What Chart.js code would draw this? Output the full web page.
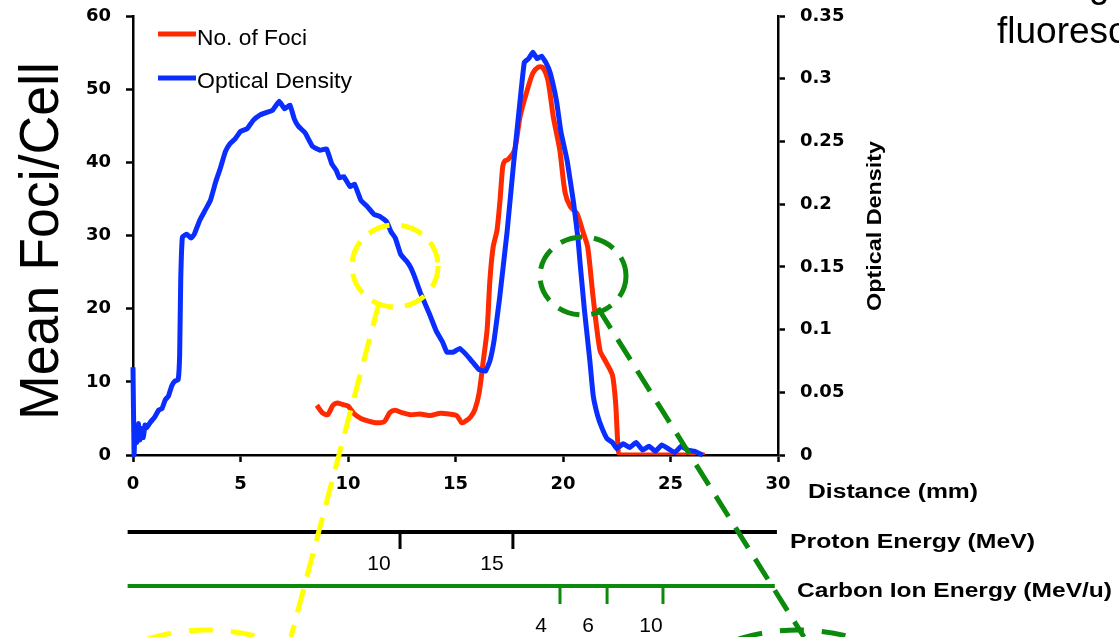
<!DOCTYPE html>
<html lang="en">
<head>
<meta charset="UTF-8">
<title>Foci and Optical Density vs Distance</title>
<script src="https://cdn.jsdelivr.net/npm/chart.js@4.4.0/dist/chart.umd.min.js"></script>
<style>
  html, body { margin: 0; padding: 0; background: #fff; }
  #wrap { width: 1119px; height: 637px; }
</style>
</head>
<body>
<div id="wrap"><canvas id="chart" width="1119" height="637"></canvas></div>
<script>
// red curve: mean foci per cell (left axis)
const fociDist = [8.55, 8.8, 9.05, 9.3, 9.5, 9.75, 10.0, 10.3, 10.6, 11.0, 11.35, 11.7, 11.95, 12.2, 12.5, 12.9, 13.35, 13.8, 14.3, 14.7, 15.05, 15.3, 15.5, 15.7, 15.9, 16.1, 16.28, 16.47, 16.6, 16.75, 16.93, 17.07, 17.2, 17.3, 17.45, 17.75, 18.0, 18.3, 18.6, 18.85, 19.05, 19.3, 19.55, 19.85, 20.1, 20.35, 20.65, 20.95, 21.15, 21.4, 21.72, 22.0, 22.3, 22.45, 22.55, 22.65, 24.0, 25.5, 26.6];
const fociVal  = [6.8, 5.8, 5.5, 6.8, 7.1, 6.9, 6.7, 5.6, 5.0, 4.6, 4.4, 4.6, 5.8, 6.1, 5.8, 5.5, 5.6, 5.4, 5.7, 5.6, 5.4, 4.4, 4.7, 5.2, 6.2, 8.5, 12.6, 17.1, 23.9, 28.4, 30.7, 34.8, 39.5, 40.2, 40.4, 41.7, 46.2, 49.5, 52.2, 53.0, 53.0, 51.2, 46.2, 41.7, 35.8, 33.9, 33.0, 30.3, 28.4, 21.6, 14.3, 12.7, 10.9, 7.0, 1.6, 0, 0, 0, 0];

// blue curve: optical density (right axis)
const odDist = [0, 0.05, 0.1, 0.18, 0.25, 0.32, 0.4, 0.48, 0.56, 0.65, 0.8, 1.0, 1.2, 1.35, 1.5, 1.65, 1.8, 1.95, 2.1, 2.17, 2.22, 2.3, 2.5, 2.7, 2.85, 3.1, 3.35, 3.6, 3.85, 4.05, 4.3, 4.5, 4.75, 5.0, 5.3, 5.6, 5.9, 6.2, 6.5, 6.8, 7.05, 7.3, 7.5, 7.7, 8.0, 8.35, 8.7, 9.0, 9.25, 9.45, 9.6, 9.8, 10.1, 10.3, 10.6, 10.9, 11.2, 11.5, 11.8, 12.0, 12.2, 12.45, 12.7, 12.9, 13.1, 13.35, 13.6, 13.8, 14.1, 14.4, 14.6, 14.9, 15.2, 15.5, 15.8, 16.1, 16.4, 16.6, 16.8, 17.05, 17.4, 17.7, 18.0, 18.2, 18.4, 18.6, 18.8, 19.0, 19.2, 19.4, 19.7, 19.9, 20.2, 20.5, 20.7, 20.8, 21.0, 21.25, 21.4, 21.6, 21.8, 22.05, 22.3, 22.5, 22.8, 23.1, 23.4, 23.7, 24.0, 24.3, 24.6, 24.9, 25.2, 25.5, 25.8, 26.1, 26.5];
const odVal  = [0.070, 0.0, 0.022, 0.010, 0.025, 0.012, 0.021, 0.014, 0.024, 0.022, 0.026, 0.030, 0.036, 0.037, 0.044, 0.047, 0.055, 0.059, 0.060, 0.080, 0.140, 0.174, 0.176, 0.173, 0.176, 0.187, 0.195, 0.203, 0.218, 0.228, 0.242, 0.248, 0.252, 0.258, 0.260, 0.267, 0.271, 0.273, 0.275, 0.282, 0.276, 0.279, 0.268, 0.262, 0.257, 0.246, 0.243, 0.244, 0.232, 0.227, 0.221, 0.222, 0.214, 0.216, 0.203, 0.198, 0.192, 0.190, 0.186, 0.178, 0.173, 0.160, 0.155, 0.150, 0.142, 0.130, 0.120, 0.112, 0.099, 0.090, 0.082, 0.082, 0.085, 0.080, 0.074, 0.068, 0.067, 0.075, 0.092, 0.125, 0.178, 0.232, 0.282, 0.313, 0.316, 0.321, 0.316, 0.318, 0.313, 0.305, 0.282, 0.258, 0.234, 0.200, 0.172, 0.152, 0.115, 0.075, 0.048, 0.032, 0.022, 0.013, 0.010, 0.005, 0.009, 0.006, 0.010, 0.004, 0.007, 0.003, 0.008, 0.005, 0.002, 0.007, 0.004, 0.003, 0.0];

// secondary energy scales under the distance axis (tick positions in mm)
const protonTicks = ['10', '15'];
const protonTickMm = [12.42, 17.67];
const carbonTicks = ['4', '6', '10'];
const carbonTickMm = [19.86, 22.05, 24.65];

const RED = '#ff2a00';
const BLUE = '#0a2eff';
const GREEN = '#0b8a0b';
const YELLOW = '#ffff00';

// draws text scaled horizontally so it covers a given width
function fitText(ctx, txt, x, y, font, width, angle) {
  ctx.save();
  ctx.font = font;
  const w = ctx.measureText(txt).width;
  ctx.translate(x, y);
  if (angle) ctx.rotate(angle);
  ctx.scale(width / w, 1);
  ctx.textAlign = 'left';
  ctx.textBaseline = 'alphabetic';
  ctx.fillStyle = '#000';
  ctx.fillText(txt, 0, 0);
  ctx.restore();
}

function dashedEllipse(ctx, cx, cy, rx, ry, color, dash) {
  ctx.save();
  ctx.strokeStyle = color;
  ctx.lineWidth = 5;
  ctx.setLineDash(dash);
  ctx.beginPath();
  ctx.ellipse(cx, cy, rx, ry, 0, 0, Math.PI * 2);
  ctx.stroke();
  ctx.restore();
}

function dashedLine(ctx, x1, y1, x2, y2, color, dash) {
  ctx.save();
  ctx.strokeStyle = color;
  ctx.lineWidth = 5;
  ctx.setLineDash(dash);
  ctx.beginPath();
  ctx.moveTo(x1, y1);
  ctx.lineTo(x2, y2);
  ctx.stroke();
  ctx.restore();
}

const decor = {
  id: 'decor',
  afterDraw(chart) {
    const ctx = chart.ctx;
    const xs = chart.scales.x;

    // legend
    ctx.save();
    ctx.lineWidth = 5;
    ctx.strokeStyle = RED;
    ctx.beginPath(); ctx.moveTo(158, 34); ctx.lineTo(196, 34); ctx.stroke();
    ctx.strokeStyle = BLUE;
    ctx.beginPath(); ctx.moveTo(158, 78); ctx.lineTo(196, 78); ctx.stroke();
    ctx.restore();
    fitText(ctx, 'No. of Foci', 197, 45, '22px "Liberation Sans", Arial', 110);
    fitText(ctx, 'Optical Density', 197, 88, '22px "Liberation Sans", Arial', 155);

    // axis titles
    fitText(ctx, 'Mean Foci/Cell', 58, 420, '55px "Liberation Sans", Arial', 358, -Math.PI / 2);
    fitText(ctx, 'Optical Density', 881, 311, 'bold 21px "Liberation Sans", Arial', 170, -Math.PI / 2);
    fitText(ctx, 'Distance (mm)', 808, 498, 'bold 20px "Liberation Sans", Arial', 170);
    fitText(ctx, 'Proton Energy (MeV)', 790, 548, 'bold 21px "Liberation Sans", Arial', 245);
    fitText(ctx, 'Carbon Ion Energy (MeV/u)', 797, 597, 'bold 21px "Liberation Sans", Arial', 315);

    // proton energy scale
    const x0 = xs.getPixelForValue(-0.25), x1 = xs.getPixelForValue(29.95);
    ctx.save();
    ctx.lineWidth = 4;
    ctx.strokeStyle = '#000';
    ctx.beginPath(); ctx.moveTo(x0, 532); ctx.lineTo(x1, 532); ctx.stroke();
    ctx.lineWidth = 3;
    protonTickMm.forEach(mm => {
      const px = xs.getPixelForValue(mm);
      ctx.beginPath(); ctx.moveTo(px, 532); ctx.lineTo(px, 549); ctx.stroke();
    });
    ctx.fillStyle = '#000';
    ctx.font = '21px "Liberation Sans", Arial';
    ctx.textAlign = 'center';
    protonTicks.forEach((t, i) => {
      ctx.fillText(t, xs.getPixelForValue(protonTickMm[i]) - 21, 570);
    });

    // carbon ion energy scale
    ctx.strokeStyle = GREEN;
    ctx.lineWidth = 4;
    ctx.beginPath(); ctx.moveTo(x0, 586); ctx.lineTo(xs.getPixelForValue(29.85), 586); ctx.stroke();
    ctx.lineWidth = 3;
    carbonTickMm.forEach(mm => {
      const px = xs.getPixelForValue(mm);
      ctx.beginPath(); ctx.moveTo(px, 586); ctx.lineTo(px, 604); ctx.stroke();
    });
    carbonTicks.forEach((t, i) => {
      ctx.fillText(t, xs.getPixelForValue(carbonTickMm[i]) - (i === 2 ? 12 : 19), 632);
    });
    ctx.restore();

    // highlight circles and connectors
    const dash = [24, 13];
    dashedEllipse(ctx, 395, 266, 43, 41, YELLOW, [22, 12]);
    dashedLine(ctx, 379, 303, 291, 637, YELLOW, dash);
    dashedEllipse(ctx, 207, 830, 200, 200, YELLOW, [24, 18]);
    dashedEllipse(ctx, 583, 276, 43, 39, GREEN, [22, 12]);
    dashedLine(ctx, 598, 308, 804, 637, GREEN, dash);
    dashedEllipse(ctx, 798, 830, 200, 200, GREEN, [24, 18]);

    // cropped caption text at the top right
    ctx.save();
    ctx.fillStyle = '#000';
    ctx.font = '37px "Liberation Sans", Arial';
    ctx.textAlign = 'left';
    ctx.fillText('fluoresc', 997, 43);
    ctx.fillText('g', 1089, -3);
    ctx.restore();
  }
};

const tickFont = { family: '"DejaVu Sans", sans-serif', weight: 'bold', size: 18 };
const gridOpts = { drawOnChartArea: false, drawTicks: true, tickLength: 7, tickColor: '#000', tickWidth: 2.5 };
const borderOpts = { display: true, color: '#000', width: 2.5 };

function fixY(width) {
  return s => { s.width = width; s.paddingTop = 0; s.paddingBottom = 0; };
}

new Chart(document.getElementById('chart'), {
  type: 'line',
  data: {
    datasets: [
      {
        label: 'No. of Foci',
        data: fociDist.map((d, i) => ({ x: d, y: fociVal[i] })),
        yAxisID: 'y',
        borderColor: RED,
        borderWidth: 5,
        pointRadius: 0,
        tension: 0.25,
        fill: false,
        order: 1
      },
      {
        label: 'Optical Density',
        data: odDist.map((d, i) => ({ x: d, y: odVal[i] })),
        yAxisID: 'y2',
        borderColor: BLUE,
        borderWidth: 5,
        pointRadius: 0,
        tension: 0.1,
        fill: false,
        clip: 6,
        order: 0
      }
    ]
  },
  options: {
    responsive: false,
    animation: false,
    layout: { padding: { top: 16, left: 0, right: 0, bottom: 0 } },
    plugins: { legend: { display: false }, tooltip: { enabled: false } },
    scales: {
      x: {
        type: 'linear', min: 0, max: 30,
        ticks: { stepSize: 5, color: '#000', font: tickFont, padding: 12, maxRotation: 0 },
        grid: gridOpts, border: borderOpts,
        afterFit: s => { s.height = 182; s.paddingLeft = 0; s.paddingRight = 0; }
      },
      y: {
        position: 'left', min: 0, max: 60,
        ticks: { stepSize: 10, color: '#000', font: tickFont, padding: 15 },
        grid: gridOpts, border: borderOpts,
        afterFit: fixY(133)
      },
      y2: {
        position: 'right', min: 0, max: 0.35,
        ticks: { stepSize: 0.05, color: '#000', font: tickFont, padding: 15,
                 callback: v => String(+v.toFixed(2)) },
        grid: gridOpts, border: borderOpts,
        afterFit: fixY(341)
      }
    }
  },
  plugins: [decor]
});
</script>
</body>
</html>
